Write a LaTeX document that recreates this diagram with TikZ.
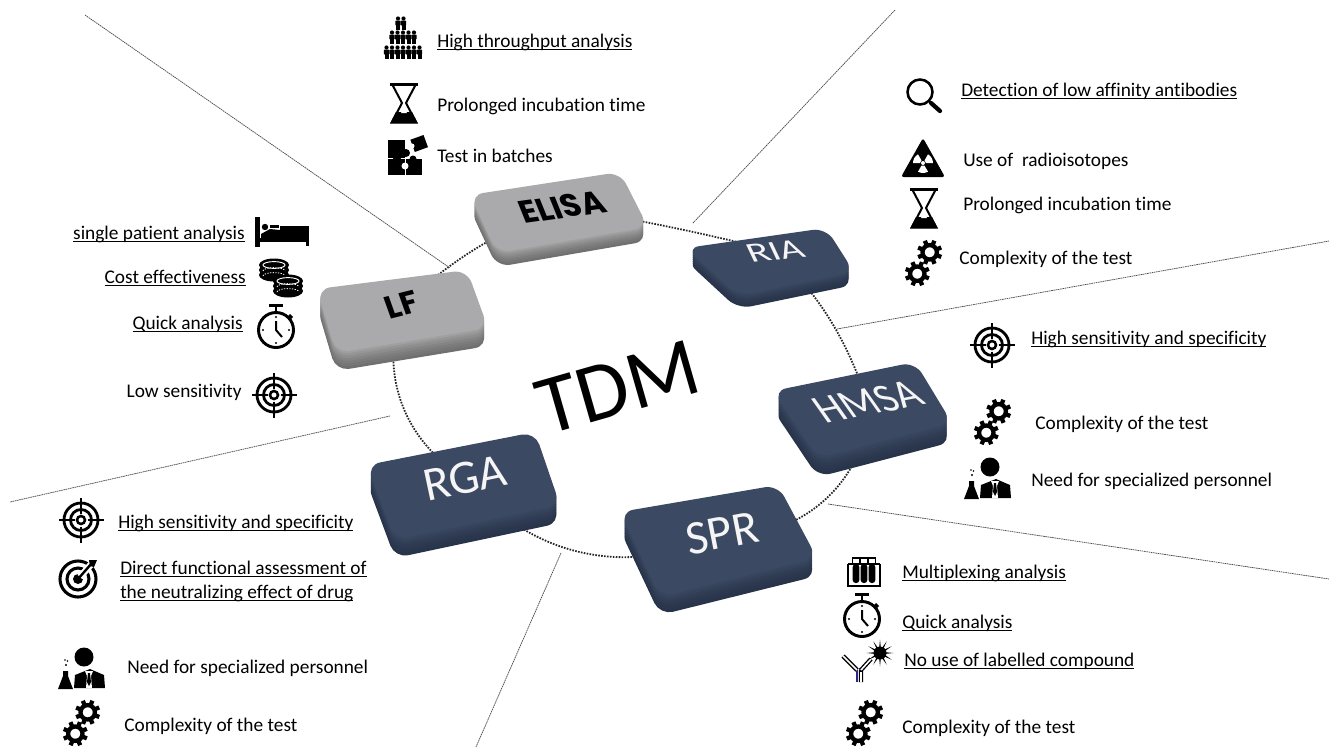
\documentclass[tikz,border=0pt]{standalone}
\usepackage{fontspec}
\usetikzlibrary{backgrounds}
\setmainfont{Carlito}[Ligatures=NoCommon]
\newfontfamily\keyheavy{Poppins}
\newsavebox{\ulbox}
\newcommand{\ultext}[1]{\sbox{\ulbox}{#1}\rlap{\rule[-2.1pt]{\wd\ulbox}{0.85pt}}\usebox{\ulbox}}
\definecolor{greytop}{RGB}{170, 170, 172}
\definecolor{greyside}{RGB}{112, 112, 112}
\definecolor{navytop}{RGB}{59, 73, 98}
\definecolor{navyside}{RGB}{40, 52, 74}
\definecolor{abblue}{RGB}{40, 40, 130}
\tikzset{
    itemtext/.style={anchor=base west, inner sep=0pt, align=left, font=\fontsize{14.5}{17.9}\selectfont},
    itemtextr/.style={anchor=base east, inner sep=0pt, font=\fontsize{14.5}{17.9}\selectfont},
    keydark/.style={text=white!92!gray, inner sep=1pt, font=\fontsize{36}{36}\selectfont},
    keylight/.style={text=black, inner sep=1pt, font=\keyheavy\bfseries\fontsize{24}{24}\selectfont},
    ringlink/.style={line width=1.35pt, dash pattern=on 1.2pt off 1pt, black!85},
    sepline/.style={line width=0.55pt, dash pattern=on 1.2pt off 0.5pt, black!70},
    gearsicon/.pic={
        \foreach \c in {(5.7,-10.7),(-6.7,10.7)} {
            \begin{scope}[shift={\c}]
                \draw[line width=3.2pt] (0,0) circle (7.2);
                \foreach \a in {0,45,...,315} \draw[line width=3.2pt] (\a+22:8.5) -- (\a+22:12.5);
            \end{scope}
        }
    },
    glassicon/.pic={
        \draw[line width=1.5pt, line join=miter] (-12,-19) -- (12,-19) -- (2,0) -- (12,19) -- (-12,19) -- (-2,0) -- cycle;
        \fill (-14,-20.5) rectangle (14,-17.5);
        \fill (-14,20.5) -- (14,20.5) -- (8,9) -- (-8,9) -- cycle;
        \fill[white] (-3,10) -- (3,10) -- (0,5) -- cycle;
    },
    targeticon/.pic={
        \draw[line width=2.1pt] (0,0) circle (17) (0,0) circle (10.5);
        \draw[line width=1.9pt] (0,0) circle (4);
        \foreach \a in {0,90,180,270} \draw[line width=1.9pt] (\a:6.5) -- (\a:22.5);
    },
    clockicon/.pic={
        \draw[line width=2.2pt] (0,3) circle (17.5);
        \fill (-7,-23) rectangle (7,-20);
        \draw[line width=2.2pt] (0,-20) -- (0,-15);
        \draw[line width=2.2pt] (13,-12) -- (16,-9);
        \draw[line width=1.5pt] (0,-6) -- (0,3) -- (6,10);
        \foreach \a in {0,90,180,270} \fill ([shift={(0,3)}]\a:13) circle (1.2);
    },
    scientisticon/.pic={
        \fill (2,-11) circle (9.5);
        \fill (-8,20) -- (-7,7) -- (8,1) -- (22,7) -- (23,20) -- cycle;
        \fill[white] (3,3) -- (11,3) -- (9,8) -- (10,20) -- (4,20) -- (5,8) -- cycle;
        \fill (6,5) -- (8,5) -- (9,14) -- (7,18) -- (5,14) -- cycle;
        \fill (-24,21) -- (-9,21) -- (-14,8) -- (-14,3) -- (-19,3) -- (-19,8) -- cycle;
        \fill (-16,-3) circle (1.1) (-14.5,-7) circle (0.9) (-17,-8) circle (0.9);
    },
    puzzleicon/.pic={
        \fill (-21,-15) rectangle (-4,3);
        \fill (-21,4) rectangle (-4,20);
        \fill (-3,4) rectangle (13,20);
        \fill (-3,-2) circle (4) (-12,4) circle (4) (4,4) circle (3.5);
        \fill[white] (-4,11) circle (3.5);
        \fill[rotate around={20:(10,-12)}] (3,-18) rectangle (17,-5);
        \fill[white] (3,-9) circle (2.5);
    },
    crowdicon/.pic={
        \foreach \yy/\xa/\xb in {-14/-5/5, 0/-11/11, 15/-16.5/16.5} {
            \pgfmathsetmacro{\xc}{\xa+5.5}
            \foreach \xx in {\xa,\xc,...,\xb} {
                \fill (\xx,\yy-4.5) circle (2.1);
                \fill[rounded corners=0.5pt] (\xx-2.6,\yy-2.5) rectangle (\xx+2.6,\yy+2.5);
                \fill (\xx-2,\yy+2) rectangle (\xx+2,\yy+7);
            }
        }
    },
    lensicon/.pic={
        \draw[line width=1.9pt] (-4,-4) circle (12.5);
        \draw[line width=3.2pt, line cap=round] (7,7) -- (16,15);
    },
    radiationicon/.pic={
        \fill[rounded corners=2pt] (0,-20) -- (22,19) -- (-22,19) -- cycle;
        \begin{scope}[shift={(0,5)}]
            \fill[white] (0,0) circle (2);
            \foreach \a in {90,210,330} \fill[white] (\a-30:3) -- (\a-30:10) arc (\a-30:\a+30:10) -- (\a+30:3) -- cycle;
        \end{scope}
    },
    bedicon/.pic={
        \fill (-27,-15) rectangle (-22,15);
        \fill (-27,6) rectangle (27,10);
        \fill (24,10) rectangle (27,14);
        \fill (-2,-6) rectangle (27,8);
        \fill (-17,-5) circle (3.2);
        \fill (-21,2) -- (-12,-3) -- (-2,-2) -- (-2,7) -- (-21,7) -- cycle;
        \fill (-12,-7) rectangle (-3,-4.5);
    },
    coinsicon/.pic={
        \foreach \cx/\cy in {-7/-9, 7/7} {
            \foreach \k in {2,1,0} {
                \fill (\cx,\cy+\k*5) ellipse (15 and 6.5);
            }
            \draw[white, line width=0.6pt, dash pattern=on 1pt off 1pt] (\cx-11,\cy+6) arc (180:360:11 and 3.4);
            \draw[white, line width=0.6pt, dash pattern=on 1pt off 1pt] (\cx-11,\cy+11) arc (180:360:11 and 3.4);
            \draw[white, line width=0.7pt] (\cx,\cy) ellipse (11 and 3.4);
        }
    },
    darticon/.pic={
        \draw[line width=2.3pt] (0,1) circle (18);
        \draw[line width=2.3pt] (0,1) circle (11);
        \fill (0,1) circle (5);
        \draw[white, line width=5pt] (2,-1) -- (16,-17);
        \draw[line width=1.8pt] (0,1) -- (14,-15);
        \fill (11,-18) -- (19,-18) -- (16,-11) -- (12,-12) -- cycle;
    },
    tubesicon/.pic={
        \draw[line width=1.2pt] (-17,14) -- (17,14);
        \draw[line width=1pt] (-16,-8) -- (-16,14) (16,-8) -- (16,14) (-16,-8) -- (16,-8);
        \foreach \xx in {-8,0,8} {
            \draw[line width=0.9pt] (\xx-3.3,-14) rectangle (\xx+3.3,-8);
            \fill[rounded corners=2.2pt] (\xx-3.3,-8) rectangle (\xx+3.3,11);
        }
    },
    antibodyicon/.pic={
        \draw[line width=3.2pt, abblue] (-8.5,6) -- (-8.5,20);
        \draw[line width=1.2pt, white] (-8.5,6) -- (-8.5,20);
        \draw[line width=3.2pt] (-10,8) -- (-24,-6);
        \draw[line width=1.2pt, white] (-10,8) -- (-24,-6);
        \draw[line width=3.2pt] (-6,8) -- (-6,20) (-6,8) -- (4,-3);
        \draw[line width=1.2pt, white] (-6,10) -- (-6,20) (-6,8) -- (4,-3);
        \begin{scope}[shift={(13,-9)}]
            \fill (0,0) circle (6.5);
            \foreach \a in {0,30,...,330} \fill (\a-10:5) -- (\a:13.5) -- (\a+10:5) -- cycle;
        \end{scope}
    }
}
% #1 colour prefix, #2 depth, #3--#6 corners of the top face
\newcommand{\drawkey}[6]{
    \foreach \k/\m in {1/0,0.85/10,0.7/20,0.55/35,0.4/50,0.25/65,0.12/82} {
        \fill[#1top!\m!#1side, rounded corners=10pt, shift={(0,#2*\k)}] #3 -- #4 -- #5 -- #6 -- cycle;
    }
    \fill[#1top, rounded corners=10pt] #3 -- #4 -- #5 -- #6 -- cycle;
}

\begin{document}
\begin{tikzpicture}[x=0.75pt, y=-0.75pt]
    \useasboundingbox (0,0) rectangle (1329,747);

    % keys
    \drawkey{grey}{18}{(317,289)}{(467,270)}{(488,328)}{(336,353)}
    \drawkey{grey}{14}{(470,195)}{(620,172)}{(648,227)}{(497,253)}
    \drawkey{navy}{13}{(686,248)}{(826,228)}{(854,272)}{(738,296)}
    \drawkey{navy}{19}{(773,391)}{(915,362)}{(952,423)}{(818,458)}
    \drawkey{navy}{18}{(620,512)}{(778,485)}{(817,558)}{(660,597)}
    \drawkey{navy}{18}{(367,465)}{(535,432)}{(560,505)}{(395,540)}

    \node[keylight, rotate=14, xslant=-0.1] (lf) at (402,305) {LF};
    \node[keylight, rotate=8, xslant=-0.25] (elisa) at (562,207) {ELISA};
    \node[keydark, rotate=6, xslant=-0.35, font=\fontsize{21}{21}\selectfont, xscale=1.45] (ria) at (775,251) {RIA};
    \node[keydark, rotate=11, xslant=-0.45, font=\fontsize{31}{31}\selectfont] (hmsa) at (868,402) {HMSA};
    \node[keydark, rotate=11] (spr) at (722,533) {SPR};
    \node[keydark, rotate=12] (rga) at (465,478) {RGA};

    \node[rotate=16, inner sep=0pt, font=\fontsize{63}{63}\selectfont] (tdm) at (618,387) {TDM};

    % ring behind the keys
    \begin{scope}[on background layer]
        \draw[ringlink] (lf.center) to[bend left=10] (elisa.center);
        \draw[ringlink] (elisa.center) to[bend left=2] (ria.center);
        \draw[ringlink] (ria.center) to[bend left=12] (hmsa.center);
        \draw[ringlink] (hmsa.center) to[bend left=50] (spr.center);
        \draw[ringlink] (spr.center) to[bend left=39] (rga.center);
        \draw[ringlink] (rga.center) to[bend left=39] (lf.center);
    \end{scope}

    % separators
    \coordinate (sepa1) at (85,15);   \coordinate (sepa2) at (450,268);
    \coordinate (sepb1) at (895,10);  \coordinate (sepb2) at (693,223);
    \coordinate (sepc1) at (837,329); \coordinate (sepc2) at (1329,241);
    \coordinate (sepd1) at (828,504); \coordinate (sepd2) at (1329,579);
    \coordinate (sepe1) at (561,553); \coordinate (sepe2) at (476,747);
    \coordinate (sepf1) at (390,416); \coordinate (sepf2) at (10,502);
    \draw[sepline] (sepa1) -- (sepa2);
    \draw[sepline] (sepb1) -- (sepb2);
    \draw[sepline] (sepc1) -- (sepc2);
    \draw[sepline] (sepd1) -- (sepd2);
    \draw[sepline] (sepe1) -- (sepe2);
    \draw[sepline] (sepf1) -- (sepf2);

    % ELISA
    \pic at (403,37) {crowdicon};
    \pic at (404,103) {glassicon};
    \pic at (409,155) {puzzleicon};
    \node[itemtext] (elisaone) at (437,47) {\ultext{High throughput analysis}};
    \node[itemtext] (elisatwo) at (437,111) {Prolonged incubation time};
    \node[itemtext] (elisathree) at (437,162) {Test in batches};

    % RIA
    \pic at (924,96) {lensicon};
    \pic at (923,158) {radiationicon};
    \pic at (924,208) {glassicon};
    \pic at (924,263) {gearsicon};
    \node[itemtext] (riaone) at (961,96) {\ultext{Detection of low affinity antibodies}};
    \node[itemtext] (riatwo) at (963,166) {Use of \ radioisotopes};
    \node[itemtext] (riathree) at (963,210) {Prolonged incubation time};
    \node[itemtext] (riafour) at (959,264) {Complexity of the test};

    % HMSA
    \pic at (992,345) {targeticon};
    \pic at (993,422) {gearsicon};
    \pic at (988,478) {scientisticon};
    \node[itemtext] (hmsaone) at (1031,344) {\ultext{High sensitivity and specificity}};
    \node[itemtext] (hmsatwo) at (1035,429) {Complexity of the test};
    \node[itemtext] (hmsathree) at (1031,486) {Need for specialized personnel};

    % SPR
    \pic at (864,572) {tubesicon};
    \pic at (862,616) {clockicon};
    \pic at (867,662) {antibodyicon};
    \pic at (865,723) {gearsicon};
    \node[itemtext] (sprone) at (902,578) {\ultext{Multiplexing analysis}};
    \node[itemtext] (sprtwo) at (902,628) {\ultext{Quick analysis}};
    \node[itemtext] (sprthree) at (904,666) {\ultext{No use of labelled compound}};
    \node[itemtext] (sprfour) at (902,733) {Complexity of the test};

    % RGA
    \pic at (81,520) {targeticon};
    \pic at (78,578) {darticon};
    \pic at (82,668) {scientisticon};
    \pic at (82,723) {gearsicon};
    \node[itemtext] (rgaone) at (118,528) {\ultext{High sensitivity and specificity}};
    \node[itemtext] (rgatwo) at (120,598) {\ultext{Direct functional assessment of}\\\ultext{the neutralizing effect of drug}};
    \node[itemtext] (rgathree) at (127,673) {Need for specialized personnel};
    \node[itemtext] (rgafour) at (124,731) {Complexity of the test};

    % LF
    \pic at (282,232) {bedicon};
    \pic at (281,274) {coinsicon};
    \pic at (276,327) {clockicon};
    \pic at (274,395) {targeticon};
    \node[itemtextr] (lfone) at (245,239) {\ultext{single patient analysis}};
    \node[itemtextr] (lftwo) at (246,283) {\ultext{Cost effectiveness}};
    \node[itemtextr] (lfthree) at (243,329) {\ultext{Quick analysis}};
    \node[itemtextr] (lffour) at (242,397) {Low sensitivity};
\end{tikzpicture}
\end{document}
